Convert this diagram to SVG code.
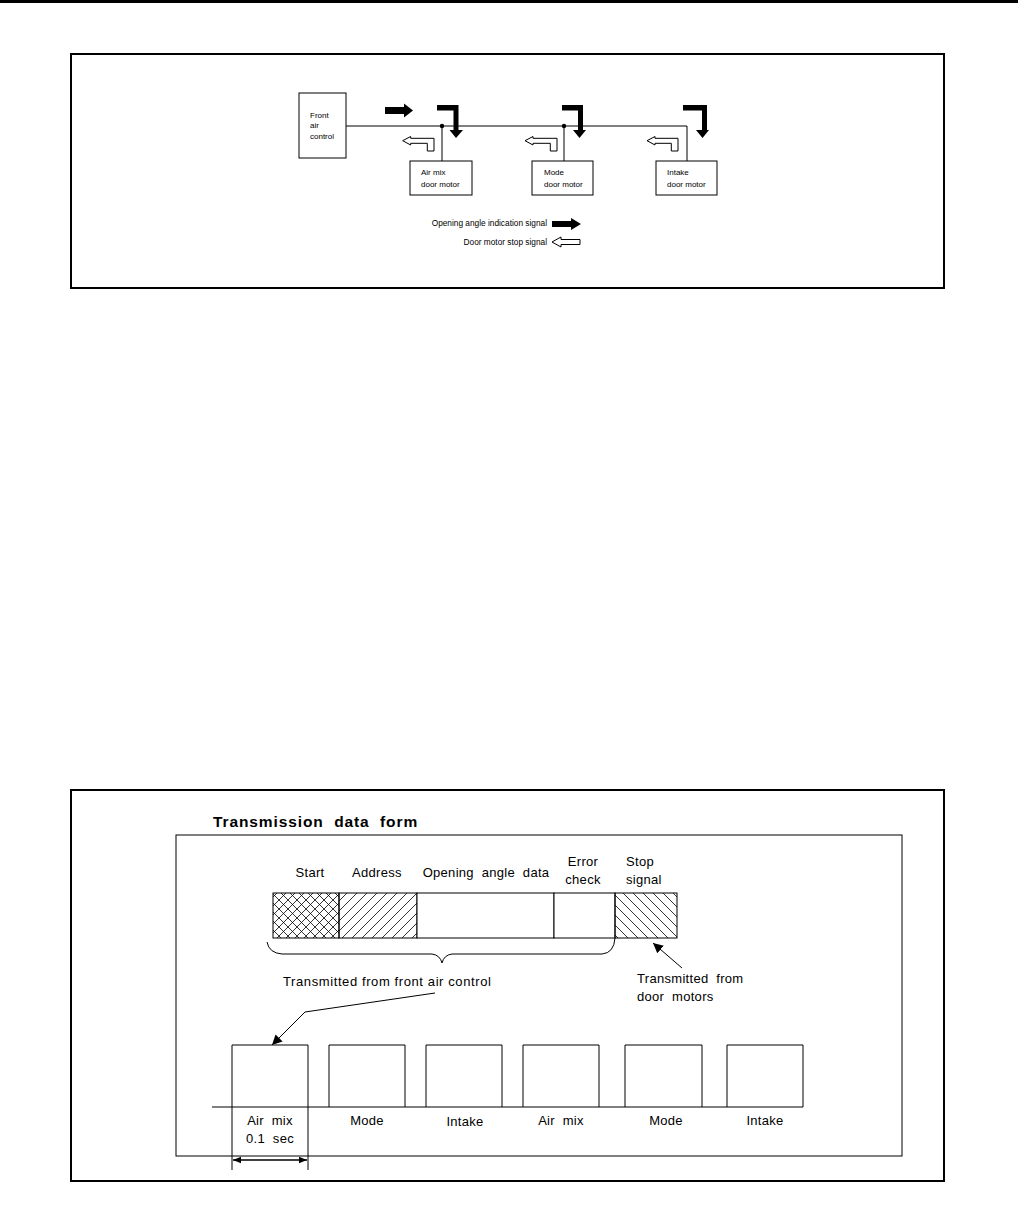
<svg xmlns="http://www.w3.org/2000/svg" width="1018" height="1209" viewBox="0 0 1018 1209">
<style>
.frame{fill:none;stroke:#000;stroke-width:2}
.box{fill:#fff;stroke:#000;stroke-width:1}
.ln{fill:none;stroke:#000;stroke-width:1}
.sm{font-family:"Liberation Sans",Arial,sans-serif;font-size:8px;fill:#000}
.lg{font-family:"Liberation Sans",Arial,sans-serif;font-size:8.3px;fill:#000}
.lb{font-family:"Liberation Sans",Arial,sans-serif;font-size:13px;fill:#000;letter-spacing:0.3px}
.blk{fill:#000}
.opn{fill:#fff;stroke:#000;stroke-width:1}
</style>
<defs>
<pattern id="cross" patternUnits="userSpaceOnUse" width="9" height="9">
<path d="M0,0 L9,9 M9,0 L0,9 M-1,8 L1,10 M8,-1 L10,1 M-1,1 L1,-1 M8,10 L10,8" stroke="#000" stroke-width="0.8" fill="none"/>
</pattern>
<pattern id="fwd" patternUnits="userSpaceOnUse" width="10" height="10">
<path d="M0,10 L10,0 M-2,2 L2,-2 M8,12 L12,8" stroke="#000" stroke-width="0.8" fill="none"/>
</pattern>
<pattern id="bwd" patternUnits="userSpaceOnUse" width="10" height="10">
<path d="M0,0 L10,10 M-2,8 L2,12 M8,-2 L12,2" stroke="#000" stroke-width="0.8" fill="none"/>
</pattern>
<marker id="ah" viewBox="0 0 10 10" refX="10" refY="5" markerWidth="10" markerHeight="10" markerUnits="userSpaceOnUse" orient="auto">
<path d="M0,0 L10,5 L0,10 z" fill="#000"/>
</marker>
<marker id="ahs" viewBox="0 0 10 10" refX="10" refY="5" markerWidth="8" markerHeight="8" markerUnits="userSpaceOnUse" orient="auto-start-reverse">
<path d="M0,1 L10,5 L0,9 z" fill="#000"/>
</marker>
</defs>
<rect x="0" y="0" width="1018" height="1209" fill="#fff"/>
<rect x="0" y="0" width="1018" height="3" fill="#000"/>

<!-- Top diagram -->
<rect class="frame" x="71" y="54" width="873" height="234"/>
<g id="connectors-top">
<path class="ln" d="M346,126 H687 V161"/>
<path class="ln" d="M442,126 V161"/>
<path class="ln" d="M564,126 V161"/>
<circle cx="442" cy="126" r="2.2" fill="#000"/>
<circle cx="564" cy="126" r="2.2" fill="#000"/>
</g>
<g id="front-air-control">
<rect class="box" x="299" y="93" width="47" height="65"/>
<text class="sm" x="310" y="118">Front</text>
<text class="sm" x="310" y="128">air</text>
<text class="sm" x="310" y="139">control</text>
</g>
<g id="air-mix-motor">
<rect class="box" x="410" y="161" width="62" height="34"/>
<text class="sm" x="421" y="175">Air mix</text>
<text class="sm" x="421" y="187">door motor</text>
</g>
<g id="mode-motor">
<rect class="box" x="532" y="161" width="61" height="34"/>
<text class="sm" x="544" y="175">Mode</text>
<text class="sm" x="544" y="187">door motor</text>
</g>
<g id="intake-motor">
<rect class="box" x="656" y="161" width="61" height="34"/>
<text class="sm" x="667" y="175">Intake</text>
<text class="sm" x="667" y="187">door motor</text>
</g>
<g id="signal-arrows">
<polygon class="blk" points="385,107 404,107 404,103.5 413,110.5 404,117.5 404,114 385,114"/>
<polygon class="blk" points="437,105 458.5,105 458.5,130 463,130 456,138 449.5,130 453.5,130 453.5,110.5 437,110.5"/>
<polygon class="blk" points="562,105 583,105 583,130 586,130 579.5,138 573,130 578,130 578,110.5 562,110.5"/>
<polygon class="blk" points="683,105 707,105 707,130 709,130 702.5,138 696,130 702,130 702,110.5 683,110.5"/>
<polygon class="opn" points="402.7,140.7 410.7,136.5 410.7,138.3 434,138.3 434,151 427.3,151 427.3,143.3 410.7,143.3 410.7,145"/>
<polygon class="opn" points="525,140.7 533,136.5 533,138.3 557,138.3 557,151 550.3,151 550.3,143.3 533,143.3 533,145"/>
<polygon class="opn" points="647,140.7 655,136.5 655,138.3 678,138.3 678,151 671.3,151 671.3,143.3 655,143.3 655,145"/>
</g>
<g id="legend">
<text class="lg" x="547" y="226" text-anchor="end">Opening angle indication signal</text>
<polygon class="blk" points="552,221 571,221 571,218 581,224 571,230 571,227 552,227"/>
<text class="lg" x="547" y="245" text-anchor="end">Door motor stop signal</text>
<polygon class="opn" points="552,242 561,237 561,239.5 580,239.5 580,244.5 561,244.5 561,247"/>
</g>

<!-- Bottom diagram -->
<rect class="frame" x="71" y="790" width="873" height="391"/>
<text x="213" y="827" font-family="Liberation Sans,Arial,sans-serif" font-weight="bold" font-size="15.5" letter-spacing="0.9" fill="#000" xml:space="preserve">Transmission  data  form</text>
<rect class="ln" x="176" y="835" width="726" height="321"/>

<g id="data-frame">
<rect x="273" y="893" width="66" height="45" fill="url(#cross)" stroke="#000" stroke-width="1"/>
<rect x="339" y="893" width="78" height="45" fill="url(#fwd)" stroke="#000" stroke-width="1"/>
<rect x="417" y="893" width="137" height="45" fill="#fff" stroke="#000" stroke-width="1"/>
<rect x="554" y="893" width="61" height="45" fill="#fff" stroke="#000" stroke-width="1"/>
<rect x="615" y="893" width="62" height="45" fill="url(#bwd)" stroke="#000" stroke-width="1"/>
<text class="lb" x="310" y="877" text-anchor="middle">Start</text>
<text class="lb" x="377" y="877" text-anchor="middle">Address</text>
<text class="lb" x="486" y="877" text-anchor="middle" xml:space="preserve">Opening  angle  data</text>
<text class="lb" x="583" y="866" text-anchor="middle">Error</text>
<text class="lb" x="583" y="884" text-anchor="middle">check</text>
<text class="lb" x="626" y="866">Stop</text>
<text class="lb" x="626" y="884">signal</text>
</g>

<g id="connectors-bottom">
<path class="ln" d="M267,942 Q269,953 282,954 L432,954 Q440,955 442,963 Q444,955 452,954 L602,954 Q614,953 615,938"/>
<path class="ln" d="M435,993 L305,1012 L272,1045" marker-end="url(#ah)"/>
<path class="ln" d="M682,968 L653,943" marker-end="url(#ah)"/>
<path class="ln" d="M212,1107 H803"/>
<path class="ln" d="M232,1107 V1170 M308,1107 V1170"/>
<path class="ln" d="M233,1160 H307" style="stroke-width:1.4" marker-start="url(#ahs)" marker-end="url(#ahs)"/>
</g>
<text class="lb" x="283" y="986" style="letter-spacing:0.6px">Transmitted from front air control</text>
<text class="lb" x="637" y="983" xml:space="preserve">Transmitted  from</text>
<text class="lb" x="637" y="1001" xml:space="preserve">door  motors</text>

<g id="slot-airmix-1">
<path class="ln" d="M232,1107 V1045 H308 V1107"/>
<text class="lb" x="270" y="1125" text-anchor="middle" xml:space="preserve">Air  mix</text>
<text class="lb" x="270" y="1143" text-anchor="middle" xml:space="preserve">0.1  sec</text>
</g>
<g id="slot-mode-1">
<path class="ln" d="M329,1107 V1045 H405 V1107"/>
<text class="lb" x="367" y="1125" text-anchor="middle">Mode</text>
</g>
<g id="slot-intake-1">
<path class="ln" d="M426,1107 V1045 H502 V1107"/>
<text class="lb" x="465" y="1126" text-anchor="middle">Intake</text>
</g>
<g id="slot-airmix-2">
<path class="ln" d="M523,1107 V1045 H599 V1107"/>
<text class="lb" x="561" y="1125" text-anchor="middle" xml:space="preserve">Air  mix</text>
</g>
<g id="slot-mode-2">
<path class="ln" d="M625,1107 V1045 H702 V1107"/>
<text class="lb" x="666" y="1125" text-anchor="middle">Mode</text>
</g>
<g id="slot-intake-2">
<path class="ln" d="M727,1107 V1045 H803 V1107"/>
<text class="lb" x="765" y="1125" text-anchor="middle">Intake</text>
</g>
</svg>
